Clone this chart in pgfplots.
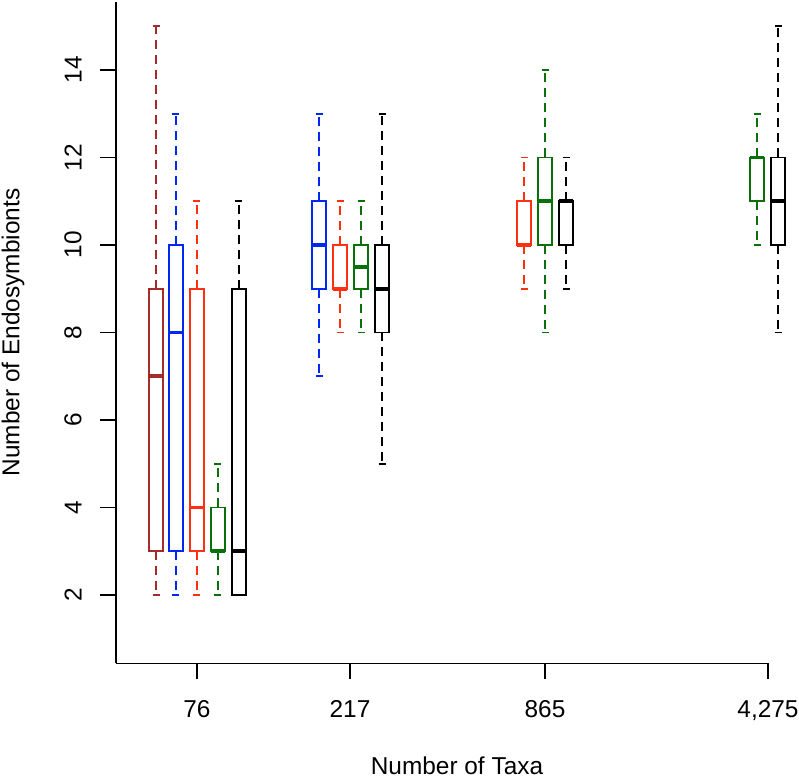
\documentclass[border=0pt]{standalone}
\usepackage{fontspec}
\setmainfont{Liberation Sans}
\usepackage{pgfplots}
\pgfplotsset{compat=1.18}
\usepgfplotslibrary{statistics}
\definecolor{brownR}{HTML}{A52A2A}
\definecolor{blueR}{HTML}{0028F0}
\definecolor{redR}{HTML}{FF3010}
\definecolor{greenR}{HTML}{0A700A}
\pgfplotsset{
  /pgfplots/boxplot/draw/lower whisker/.code={%
    \draw[/pgfplots/boxplot/every whisker/.try, dash pattern=on 4.5pt off 3pt]
      (boxplot box cs:\pgfplotsboxplotvalue{lower quartile},0.5) --
      (boxplot box cs:\pgfplotsboxplotvalue{lower whisker},0.5);
    \draw[/pgfplots/boxplot/every whisker/.try]
      (boxplot whisker cs:\pgfplotsboxplotvalue{lower whisker},0) --
      (boxplot whisker cs:\pgfplotsboxplotvalue{lower whisker},1);
  },
  /pgfplots/boxplot/draw/upper whisker/.code={%
    \draw[/pgfplots/boxplot/every whisker/.try, dash pattern=on 4.5pt off 3pt]
      (boxplot box cs:\pgfplotsboxplotvalue{upper quartile},0.5) --
      (boxplot box cs:\pgfplotsboxplotvalue{upper whisker},0.5);
    \draw[/pgfplots/boxplot/every whisker/.try]
      (boxplot whisker cs:\pgfplotsboxplotvalue{upper whisker},0) --
      (boxplot whisker cs:\pgfplotsboxplotvalue{upper whisker},1);
  },
  /pgfplots/boxplot/every box/.style={line width=0.8pt},
  /pgfplots/boxplot/every whisker/.style={line width=0.8pt},
  /pgfplots/boxplot/every median/.style={line width=1.8pt},
}
\begin{document}
\fontsize{12.2}{14.6}\selectfont
\begin{tikzpicture}
\begin{axis}[
  scale only axis, width=326pt, height=330.75pt,
  xmin=0, xmax=31.048, ymin=0.44, ymax=15.56,
  axis x line*=bottom, axis y line*=left,
  every outer x axis line/.append style={-},
  every outer y axis line/.append style={-},
  axis line style={line width=0.7pt, -},
  tick style={line width=0.7pt, black},
  tick align=outside, major tick length=8pt,
  xtick={3.857,11.143,20.429,31.048}, xticklabels={76,217,865,{4,275}},
  ytick={2,4,6,8,10,12,14},
  /pgf/number format/assume math mode=true,
  yticklabel style={rotate=90, anchor=south, inner ysep=9pt},
  xticklabel style={anchor=north, inner ysep=10.5pt},
  xlabel={Number of Taxa}, ylabel={Number of Endosymbionts},
  xlabel style={at={(axis description cs:0.523,-0.155)}, anchor=center},
  ylabel style={at={(axis description cs:-0.158,0.5)}, anchor=center},
  clip=false,
  boxplot/draw direction=y,
  boxplot/box extend=0.6667, boxplot/whisker extend=0.3333,
]
% group 76
\addplot[draw=brownR, boxplot prepared={draw position=1.905, lower whisker=2, lower quartile=3, median=7, upper quartile=9, upper whisker=15}] coordinates {};
\addplot[draw=blueR, boxplot prepared={draw position=2.857, lower whisker=2, lower quartile=3, median=8, upper quartile=10, upper whisker=13}] coordinates {};
\addplot[draw=redR, boxplot prepared={draw position=3.857, lower whisker=2, lower quartile=3, median=4, upper quartile=9, upper whisker=11}] coordinates {};
\addplot[draw=greenR, boxplot prepared={draw position=4.857, lower whisker=2, lower quartile=3, median=3, upper quartile=4, upper whisker=5}] coordinates {};
\addplot[draw=black, boxplot prepared={draw position=5.857, lower whisker=2, lower quartile=2, median=3, upper quartile=9, upper whisker=11}] coordinates {};
% group 217
\addplot[draw=blueR, boxplot prepared={draw position=9.667, lower whisker=7, lower quartile=9, median=10, upper quartile=11, upper whisker=13}] coordinates {};
\addplot[draw=redR, boxplot prepared={draw position=10.667, lower whisker=8, lower quartile=9, median=9, upper quartile=10, upper whisker=11}] coordinates {};
\addplot[draw=greenR, boxplot prepared={draw position=11.667, lower whisker=8, lower quartile=9, median=9.5, upper quartile=10, upper whisker=11}] coordinates {};
\addplot[draw=black, boxplot prepared={draw position=12.667, lower whisker=5, lower quartile=8, median=9, upper quartile=10, upper whisker=13}] coordinates {};
% group 865
\addplot[draw=redR, boxplot prepared={draw position=19.429, lower whisker=9, lower quartile=10, median=10, upper quartile=11, upper whisker=12}] coordinates {};
\addplot[draw=greenR, boxplot prepared={draw position=20.429, lower whisker=8, lower quartile=10, median=11, upper quartile=12, upper whisker=14}] coordinates {};
\addplot[draw=black, boxplot prepared={draw position=21.429, lower whisker=9, lower quartile=10, median=11, upper quartile=11, upper whisker=12}] coordinates {};
% group 4275
\addplot[draw=greenR, boxplot prepared={draw position=30.524, lower whisker=10, lower quartile=11, median=12, upper quartile=12, upper whisker=13}] coordinates {};
\addplot[draw=black, boxplot prepared={draw position=31.524, lower whisker=8, lower quartile=10, median=11, upper quartile=12, upper whisker=15}] coordinates {};
\coordinate (TL) at (axis cs:-5.524,15.6);
\coordinate (BR) at (axis cs:32.524,-2.183);
\end{axis}
\pgfresetboundingbox
\path[use as bounding box] (TL) rectangle (BR);
\end{tikzpicture}
\end{document}
